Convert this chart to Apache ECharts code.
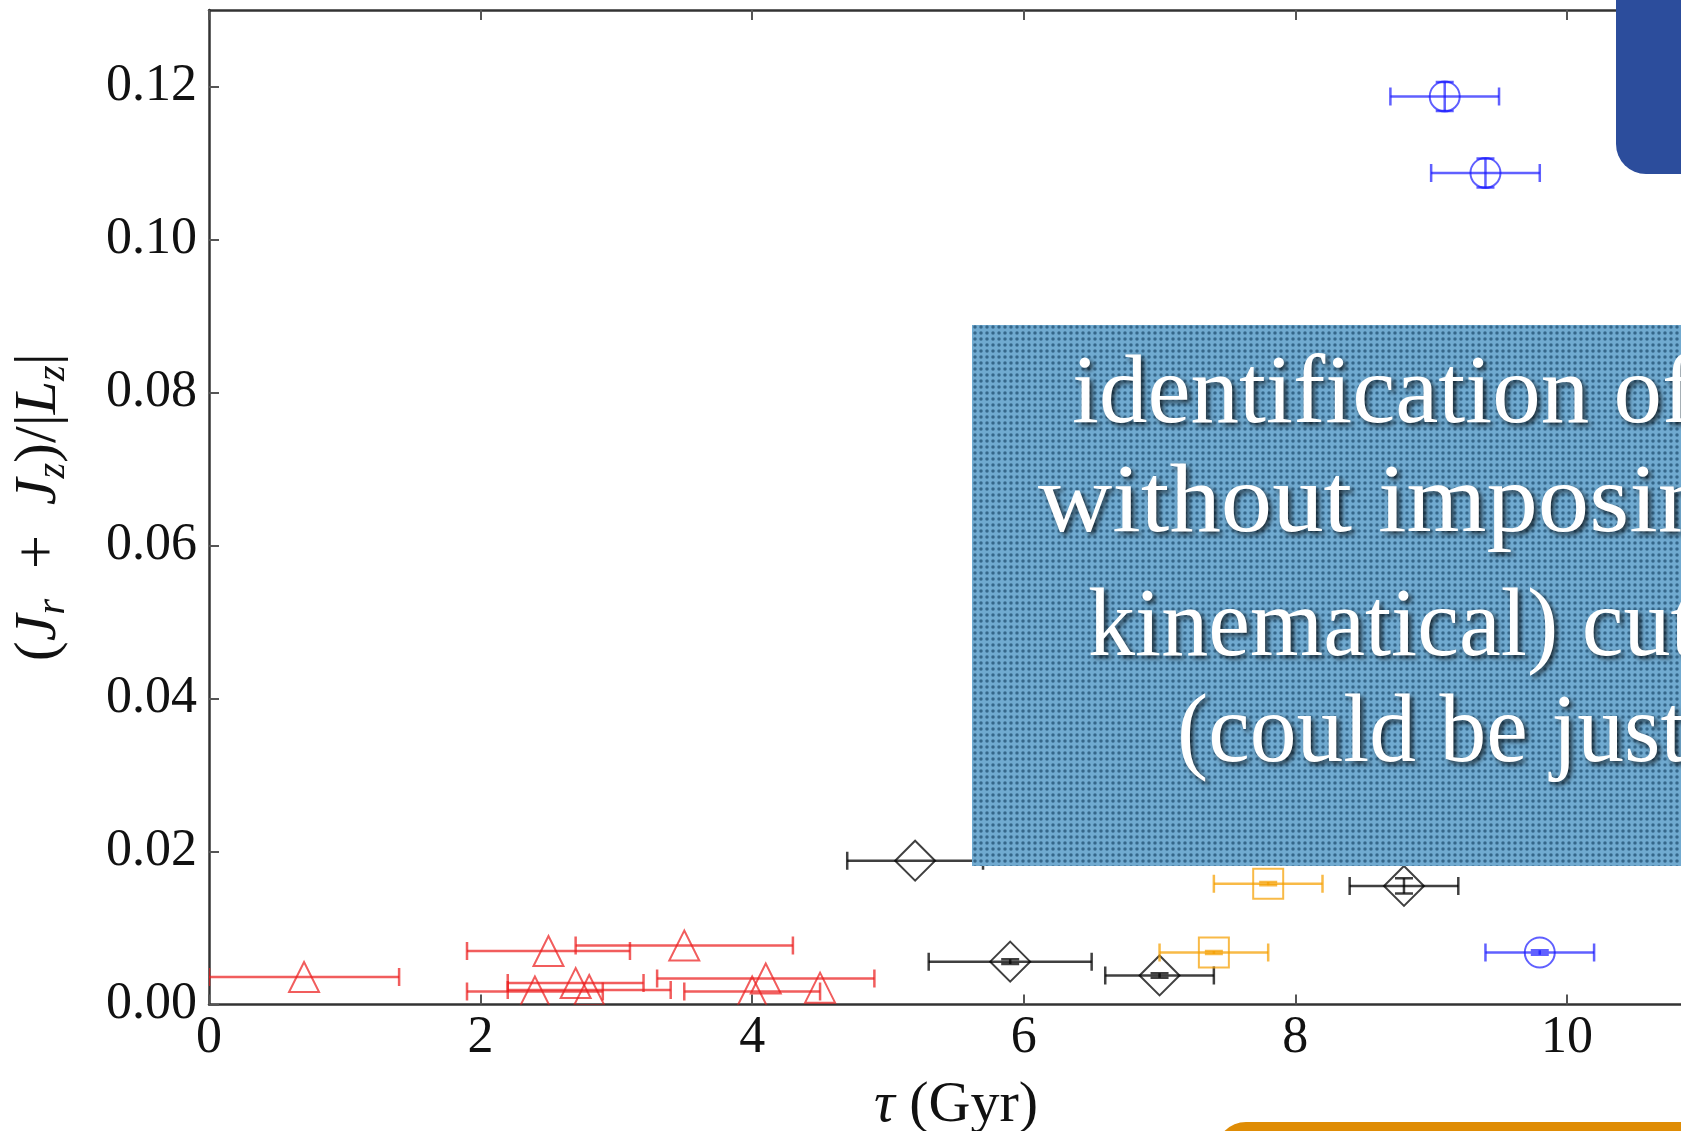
<!DOCTYPE html>
<html>
<head>
<meta charset="utf-8">
<script src="https://cdn.jsdelivr.net/npm/echarts@6/dist/echarts.min.js"></script>
<style>
  html, body { margin: 0; padding: 0; background: #ffffff; }
  #chart { width: 1681px; height: 1131px; }
</style>
</head>
<body>
<div id="chart"></div>
<script>
// Stellar age tau (Gyr) against (J_r + J_z)/|L_z|, four groups with 1-sigma errors.
const redX    = [0.70, 2.50, 3.50, 2.40, 2.70, 2.80, 4.00, 4.10, 4.50];
const redY    = [0.0036, 0.0070, 0.0077, 0.0017, 0.0028, 0.0019, 0.0017, 0.0034, 0.0022];
const redXErr = [0.70, 0.60, 0.80, 0.50, 0.50, 0.60, 0.50, 0.80, 0.00];
const redYErr = [0, 0, 0, 0, 0, 0, 0, 0, 0];

const blackX    = [5.20, 5.90, 7.00, 8.80];
const blackY    = [0.0188, 0.0056, 0.0038, 0.0155];
const blackXErr = [0.50, 0.60, 0.40, 0.40];
const blackYErr = [0.0000, 0.0003, 0.0003, 0.0010];

const orangeX    = [7.80, 7.40];
const orangeY    = [0.0158, 0.0068];
const orangeXErr = [0.40, 0.40];
const orangeYErr = [0.0002, 0.0002];

const blueX    = [9.10, 9.40, 9.80];
const blueY    = [0.1187, 0.1087, 0.0068];
const blueXErr = [0.40, 0.40, 0.40];
const blueYErr = [0.0019, 0.0019, 0.0003];

// axis ranges and tick steps (the x range runs to the right edge of the page)
const xRange = [0, 10.84];
const xStep = 2;
const yRange = [0, 0.13];
const yStep = 0.02;

// text lines of the slide panel laid over the plot
const panelLines = ['identification of', 'without imposin', 'kinematical) cut', '(could be just'];

const SERIF = '"Liberation Serif", "DejaVu Serif", serif';

function markerShape(kind, c, size, color) {
  const h = size / 2;
  const style = { fill: 'none', stroke: color, lineWidth: 2 };
  if (kind === 'triangle') {
    return { type: 'polygon', shape: { points: [[c[0], c[1] - h], [c[0] - h, c[1] + h], [c[0] + h, c[1] + h]] }, style };
  }
  if (kind === 'diamond') {
    return { type: 'polygon', shape: { points: [[c[0], c[1] - h], [c[0] + h, c[1]], [c[0], c[1] + h], [c[0] - h, c[1]]] }, style };
  }
  if (kind === 'square') {
    return { type: 'rect', shape: { x: c[0] - h, y: c[1] - h, width: size, height: size }, style };
  }
  return { type: 'circle', shape: { cx: c[0], cy: c[1], r: h }, style };
}

function errorSeries(name, xs, ys, xe, ye, color, kind, size) {
  const data = xs.map((x, i) => [x, ys[i], xe[i], ye[i]]);
  return {
    type: 'custom',
    name,
    data,
    clip: true,
    encode: { x: 0, y: 1 },
    renderItem(params, api) {
      const x = api.value(0), y = api.value(1), dx = api.value(2), dy = api.value(3);
      const c = api.coord([x, y]);
      const cap = 9;
      const ls = { stroke: color, lineWidth: 2.5, fill: 'none' };
      const children = [];
      if (dx > 0) {
        const l = api.coord([x - dx, y]);
        const r = api.coord([x + dx, y]);
        children.push({ type: 'line', shape: { x1: l[0], y1: l[1], x2: r[0], y2: r[1] }, style: ls });
        children.push({ type: 'line', shape: { x1: l[0], y1: l[1] - cap, x2: l[0], y2: l[1] + cap }, style: ls });
        children.push({ type: 'line', shape: { x1: r[0], y1: r[1] - cap, x2: r[0], y2: r[1] + cap }, style: ls });
      }
      if (dy > 0) {
        const t = api.coord([x, y + dy]);
        const b = api.coord([x, y - dy]);
        children.push({ type: 'line', shape: { x1: t[0], y1: t[1], x2: b[0], y2: b[1] }, style: ls });
        children.push({ type: 'line', shape: { x1: t[0] - cap, y1: t[1], x2: t[0] + cap, y2: t[1] }, style: ls });
        children.push({ type: 'line', shape: { x1: b[0] - cap, y1: b[1], x2: b[0] + cap, y2: b[1] }, style: ls });
      }
      children.push(markerShape(kind, c, size, color));
      return { type: 'group', children };
    }
  };
}

// halftone fill for the text panel
function halftone() {
  const cv = document.createElement('canvas');
  cv.width = 6; cv.height = 6;
  const g = cv.getContext('2d');
  g.fillStyle = '#70aad0';
  g.fillRect(0, 0, 6, 6);
  g.fillStyle = '#35678a';
  g.beginPath();
  g.arc(3, 3, 1.75, 0, Math.PI * 2);
  g.fill();
  return cv;
}

const axisLineStyle = { color: '#333333', width: 2.5 };
const tickStyle = { show: true, inside: true, length: 10, lineStyle: { color: '#555555', width: 2 } };
const hideMax = v => (Math.abs(v - xRange[1]) < 1e-9 ? '' : String(v));

const chart = echarts.init(document.getElementById('chart'), null, { renderer: 'canvas' });

// panel text placement: left edge, bottom edge and horizontal stretch of each line
const panelBottoms = [445, 554, 678, 784];
const panelStarts = [1072, 1038, 1088, 1177];
const panelStretch = [1.0, 1.06, 0.97, 0.965];

chart.setOption({
  backgroundColor: '#ffffff',
  animation: false,
  grid: { left: 209, top: 10, right: 0, bottom: 126.5, containLabel: false, outerBoundsMode: 'none' },
  xAxis: [
    {
      type: 'value', min: xRange[0], max: xRange[1], interval: xStep, position: 'bottom',
      axisLine: { show: true, onZero: false, lineStyle: axisLineStyle },
      axisTick: tickStyle,
      axisLabel: { color: '#111111', fontFamily: SERIF, fontSize: 52, margin: 8, showMaxLabel: false, formatter: hideMax },
      splitLine: { show: false }
    },
    {
      type: 'value', min: xRange[0], max: xRange[1], interval: xStep, position: 'top',
      axisLine: { show: true, onZero: false, lineStyle: axisLineStyle },
      axisTick: tickStyle,
      axisLabel: { show: false },
      splitLine: { show: false }
    }
  ],
  yAxis: [
    {
      type: 'value', min: yRange[0], max: yRange[1], interval: yStep,
      axisLine: { show: true, onZero: false, lineStyle: axisLineStyle },
      axisTick: tickStyle,
      axisLabel: {
        color: '#111111', fontFamily: SERIF, fontSize: 52, margin: 12, showMaxLabel: false,
        formatter: v => (Math.abs(v - yRange[1]) < 1e-9 ? '' : v.toFixed(2))
      },
      splitLine: { show: false },
      name: '{p|(}{i|J}{s|r}{p|\u2002+\u2002}{i|J}{s|z}{p|)/|}{i|L}{s|z}{p||}',
      nameLocation: 'middle',
      nameGap: 136,
      nameTextStyle: {
        rich: {
          p: { fontFamily: SERIF, fontSize: 60, lineHeight: 68, color: '#111111', verticalAlign: 'middle' },
          i: { fontFamily: SERIF, fontStyle: 'italic', fontSize: 60, lineHeight: 68, color: '#111111', verticalAlign: 'middle' },
          s: { fontFamily: SERIF, fontStyle: 'italic', fontSize: 40, lineHeight: 40, color: '#111111', verticalAlign: 'bottom' }
        }
      }
    }
  ],
  series: [
    errorSeries('red', redX, redY, redXErr, redYErr, 'rgba(235,30,30,0.72)', 'triangle', 30),
    errorSeries('black', blackX, blackY, blackXErr, blackYErr, 'rgba(0,0,0,0.75)', 'diamond', 40),
    errorSeries('orange', orangeX, orangeY, orangeXErr, orangeYErr, 'rgba(245,160,0,0.72)', 'square', 30),
    errorSeries('blue', blueX, blueY, blueXErr, blueYErr, 'rgba(20,20,255,0.68)', 'circle', 30)
  ],
  graphic: [
    {
      type: 'text', z: 50,
      style: {
        x: 956, y: 1106, align: 'center', verticalAlign: 'middle',
        text: '{i|τ} (Gyr)',
        rich: {
          i: { fontFamily: SERIF, fontStyle: 'italic', fontSize: 58, fill: '#111111' }
        },
        font: '58px ' + SERIF, fill: '#111111'
      }
    },
    {
      type: 'rect', z: 100,
      shape: { x: 1616, y: -40, width: 140, height: 214, r: [0, 0, 0, 30] },
      style: { fill: '#2c4d9c' }
    },
    {
      type: 'rect', z: 100,
      shape: { x: 972, y: 325, width: 760, height: 541 },
      style: { fill: { image: halftone(), repeat: 'repeat' } }
    },
    ...panelLines.map((t, i) => ({
      type: 'text', z: 101,
      x: panelStarts[i], y: panelBottoms[i],
      scaleX: panelStretch[i], scaleY: 1,
      style: {
        x: 0, y: 0, text: t,
        align: 'left', verticalAlign: 'bottom',
        font: '97px ' + SERIF, fill: '#ffffff',
        textShadowColor: 'rgba(0,0,0,0.7)', textShadowBlur: 5,
        textShadowOffsetX: 3, textShadowOffsetY: 3
      }
    })),
    {
      type: 'rect', z: 100,
      shape: { x: 1216, y: 1122, width: 520, height: 60, r: [30, 0, 0, 0] },
      style: { fill: '#df8c05' }
    }
  ]
});
</script>
</body>
</html>
